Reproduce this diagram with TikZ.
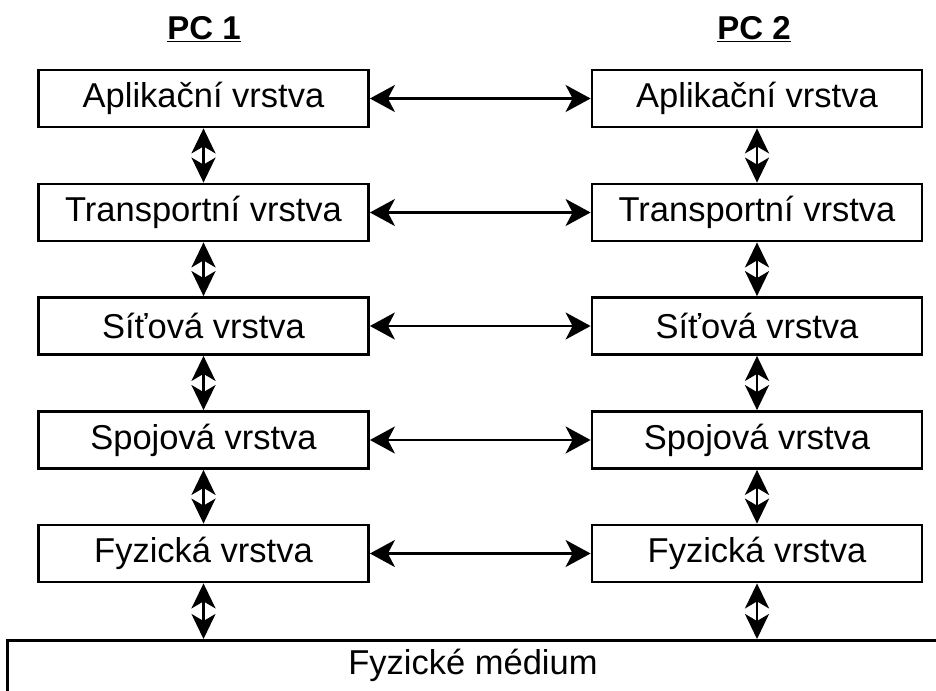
\documentclass[tikz,border=0pt]{standalone}
\usepackage{fontspec}
\setmainfont{Liberation Sans}
\usetikzlibrary{arrows.meta}
\begin{document}
\begin{tikzpicture}[x=1pt,y=-1pt,
  layer/.style={draw, line width=2.8pt, minimum width=330pt, minimum height=57pt, inner sep=0pt, font=\fontsize{34.5}{38}\selectfont},
  title/.style={font=\fontsize{33}{36}\selectfont\bfseries},
  hlink/.style={line width=2.6pt, {Stealth[length=25pt,width=27pt,inset=7pt]}-{Stealth[length=25pt,width=27pt,inset=7pt]}},
  vlink/.style={line width=2.6pt, {Stealth[length=25pt,width=24pt,inset=7pt]}-{Stealth[length=25pt,width=24pt,inset=7pt]}}
]
\useasboundingbox (0,0) rectangle (936,690);
\begin{scope}
\clip (0,0) rectangle (936,690);
\node[title] (pc1) at (204,29) {\underline{PC 1}};
\node[title] (pc2) at (754,29) {\underline{PC 2}};

\node[layer] (a1) at (203.5,98.5) {Aplikační vrstva};
\node[layer] (t1) at (203.5,212.5) {Transportní vrstva};
\node[layer] (s1) at (203.5,326) {Síťová vrstva};
\node[layer] (d1) at (203.5,440) {Spojová vrstva};
\node[layer] (f1) at (203.5,553.5) {Fyzická vrstva};

\node[layer] (a2) at (757,98.5) {Aplikační vrstva};
\node[layer] (t2) at (757,212.5) {Transportní vrstva};
\node[layer] (s2) at (757,326) {Síťová vrstva};
\node[layer] (d2) at (757,440) {Spojová vrstva};
\node[layer] (f2) at (757,553.5) {Fyzická vrstva};

\node[draw, line width=2.8pt, anchor=north west, minimum width=945pt, minimum height=80pt, inner sep=0pt] (med) at (6,639) {};
\node[font=\fontsize{34.5}{38}\selectfont] (medtxt) at (473,665) {Fyzické médium};

\foreach \l in {a,t,s,d,f} {
  \draw[hlink] (\l1.east) -- (\l2.west);
}
\draw[vlink] (a1.south) -- (t1.north);
\draw[vlink] (t1.south) -- (s1.north);
\draw[vlink] (s1.south) -- (d1.north);
\draw[vlink] (d1.south) -- (f1.north);
\draw[vlink] (f1.south) -- (f1.south |- med.north);
\draw[vlink] (a2.south) -- (t2.north);
\draw[vlink] (t2.south) -- (s2.north);
\draw[vlink] (s2.south) -- (d2.north);
\draw[vlink] (d2.south) -- (f2.north);
\draw[vlink] (f2.south) -- (f2.south |- med.north);
\end{scope}
\end{tikzpicture}
\end{document}
